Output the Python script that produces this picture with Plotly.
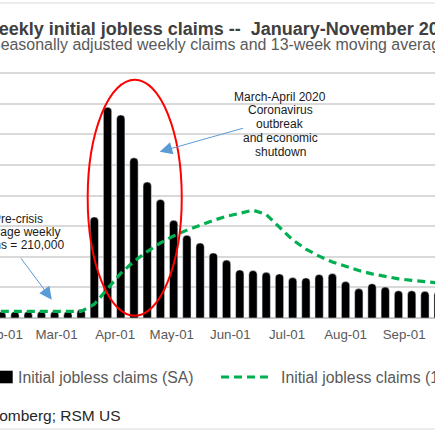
import pandas as pd
import plotly.graph_objects as go

# Weekly initial jobless claims 2020, week ending Saturday (thousands)
weeks = pd.date_range("2020-01-04", periods=46, freq="7D")
claims_sa = [214, 207, 223, 217, 202, 205, 211, 220, 217, 211, 282,
             3300, 6880, 6630, 5230, 4440, 3870,
             3190, 2700, 2450, 2120, 1890, 1570, 1550, 1490, 1440,
             1320, 1310, 1420, 1450, 1190, 960, 1120, 1010, 890,
             890, 870, 870, 850, 845, 898, 787, 751, 757, 709, 742]
claims_ma13 = [212, 211, 212, 212, 211, 210, 210, 211, 211, 211, 216,
               450, 970, 1460, 1850, 2170, 2450,
               2680, 2870, 3040, 3190, 3320, 3420, 3520, 3380, 2960,
               2550, 2250, 2020, 1830, 1680, 1550, 1440, 1360, 1280,
               1230, 1180, 1130, 1090, 1050, 1010, 960, 930, 900, 860, 840]

month_ticks = pd.date_range("2020-02-01", "2020-11-01", freq="MS")
month_labels = [d.strftime("%b-01") for d in month_ticks]

FONT = "Liberation Sans, Arial, sans-serif"
W, H = 435, 435
TOP, BOTTOM = 70, 318   # plot area in pixels


def px_x(px):
    return px / W


def px_y(py):
    return (BOTTOM - py) / (BOTTOM - TOP)


fig = go.Figure()
fig.add_trace(go.Bar(x=weeks, y=[v * 1000 for v in claims_sa],
                     name="Initial jobless claims (SA)",
                     marker=dict(color="black", cornerradius=4),
                     width=4.4 * 86400000))
fig.add_trace(go.Scatter(x=weeks, y=[v * 1000 for v in claims_ma13],
                         name="Initial jobless claims (13-week moving average)",
                         mode="lines",
                         line=dict(color="#00b050", width=3.2, dash="8px,5px")))

annotations = []
# title and subtitle (left and right sides cropped like the original)
annotations.append(dict(text="<b>Weekly initial jobless claims --  January-November 2020</b>",
                        x=px_x(-20.5), y=px_y(29), xanchor="left", yanchor="middle",
                        font=dict(size=18.0, color="#404040")))
annotations.append(dict(text="Seasonally adjusted weekly claims and 13-week moving average",
                        x=px_x(-12.5), y=px_y(45), xanchor="left", yanchor="middle",
                        font=dict(size=15.95, color="#595959")))

# callouts inside the chart
covid_lines = ["March-April 2020", "Coronavirus", "outbreak", "and economic", "shutdown"]
for i, line in enumerate(covid_lines):
    annotations.append(dict(text=line, x=px_x(280), y=px_y(96.7 + 13.75 * i),
                            xanchor="center", yanchor="middle",
                            font=dict(size=12, color="#1a1a1a")))
pre_lines = ["Pre-crisis", "average weekly", "claims = 210,000"]
for i, line in enumerate(pre_lines):
    annotations.append(dict(text=line, x=px_x(18), y=px_y(219.3 + 12.9 * i),
                            xanchor="center", yanchor="middle",
                            font=dict(size=12, color="#1a1a1a")))

# arrows
annotations.append(dict(x="2020-04-24 15:00", y=5.43e6, xref="x", yref="y",
                        ax="2020-06-08 12:00", ay=6.21e6, axref="x", ayref="y",
                        text="", showarrow=True, arrowhead=2, arrowsize=2.5,
                        arrowwidth=1, arrowcolor="#5b9bd5"))
annotations.append(dict(x="2020-02-27 12:00", y=0.6e6, xref="x", yref="y",
                        ax="2020-02-10 14:00", ay=2.0e6, axref="x", ayref="y",
                        text="", showarrow=True, arrowhead=2, arrowsize=2.5,
                        arrowwidth=1, arrowcolor="#5b9bd5"))

# legend
annotations.append(dict(text="Initial jobless claims (SA)", x=px_x(16), y=px_y(377),
                        xanchor="left", yanchor="middle",
                        font=dict(size=15.8, color="#595959")))
annotations.append(dict(text="Initial jobless claims (13-week moving average)",
                        x=px_x(279), y=px_y(377), xanchor="left", yanchor="middle",
                        font=dict(size=15.8, color="#595959")))
# source
annotations.append(dict(text="Source: Bloomberg; RSM US", x=px_x(-83), y=px_y(415),
                        xanchor="left", yanchor="middle",
                        font=dict(size=15.5, color="#262626")))

for a in annotations:
    a.setdefault("xref", "paper")
    a.setdefault("yref", "paper")
    a.setdefault("showarrow", False)

shapes = [
    # red ellipse around the spike
    dict(type="circle", xref="x", yref="y",
         x0="2020-03-17 12:00", x1="2020-05-06 07:00", y0=0.075e6, y1=7.78e6,
         line=dict(color="#ff0000", width=2)),
    # legend symbols
    dict(type="rect", xref="paper", yref="paper",
         x0=px_x(-1), x1=px_x(12.7), y0=px_y(383.3), y1=px_y(370.7),
         fillcolor="black", line=dict(width=0)),
    dict(type="line", xref="paper", yref="paper",
         x0=px_x(221), x1=px_x(273), y0=px_y(377), y1=px_y(377),
         line=dict(color="#00b050", width=3.2, dash="8px,5px")),
    # outer chart border
    dict(type="line", xref="paper", yref="paper", x0=-0.1, x1=1.1,
         y0=px_y(3), y1=px_y(3), line=dict(color="#d9d9d9", width=1)),
    dict(type="line", xref="paper", yref="paper", x0=-0.1, x1=1.1,
         y0=px_y(429), y1=px_y(429), line=dict(color="#d9d9d9", width=1)),
]

fig.update_layout(
    width=W, height=H,
    margin=dict(l=0, r=0, t=TOP, b=H - BOTTOM, pad=0, autoexpand=False),
    paper_bgcolor="white", plot_bgcolor="white",
    font=dict(family=FONT, color="#595959"),
    showlegend=False,
    annotations=annotations,
    shapes=shapes,
    xaxis=dict(type="date", range=["2020-01-31 02:00", "2020-09-17 08:00"],
               tickvals=month_ticks, ticktext=month_labels,
               tickfont=dict(size=13.3, color="#595959"),
               ticklabelstandoff=7, ticklabeloverflow="allow", automargin=False,
               showgrid=False, showline=False, ticks=""),
    yaxis=dict(range=[0, 8.098e6], dtick=1e6, showticklabels=False,
               gridcolor="#d9d9d9", gridwidth=1.5,
               zeroline=True, zerolinecolor="#c8c8c8", zerolinewidth=1.5),
)

# page body has an 8px default margin; drop it so the figure fills the window
fig.write_html("out.html", config={"displayModeBar": False},
               post_script="document.body.style.margin='0';")
